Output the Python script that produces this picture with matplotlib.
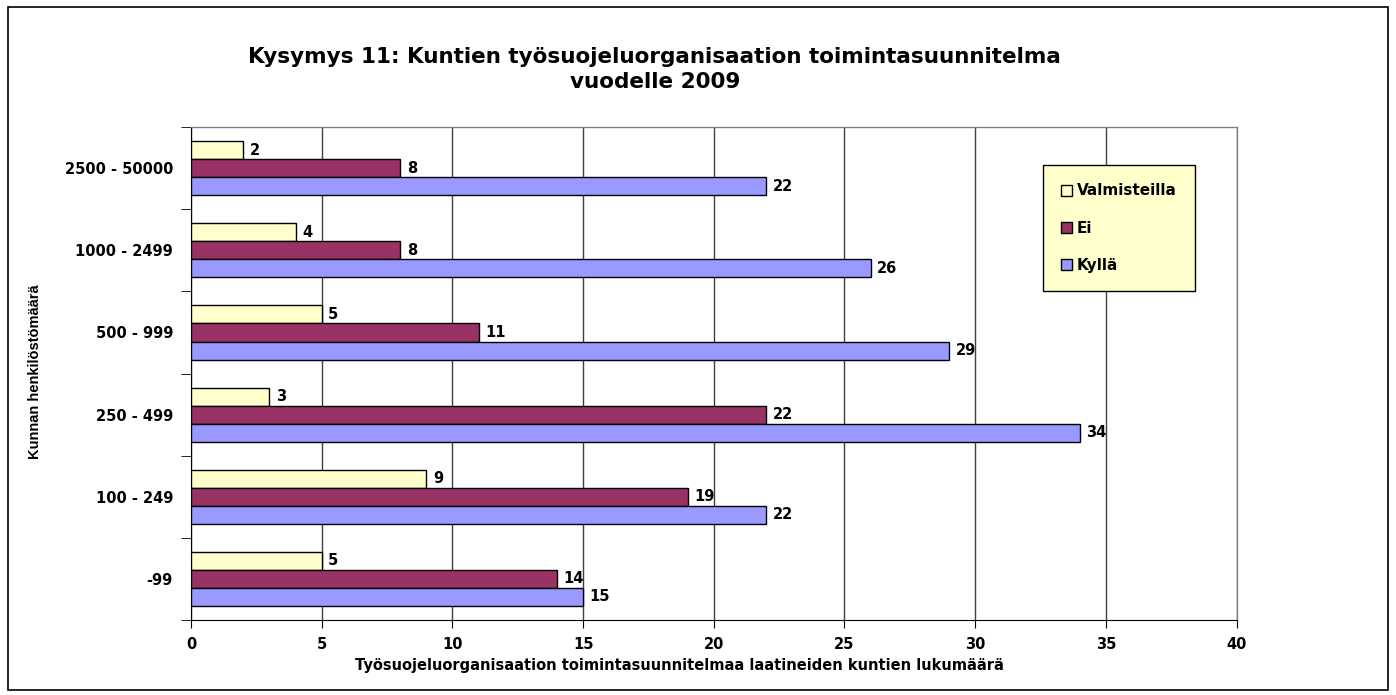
import matplotlib
matplotlib.use('Agg')
import matplotlib.pyplot as plt
import numpy as np

# data (bottom to top)
categories = ['-99', '100 - 249', '250 - 499', '500 - 999', '1000 - 2499', '2500 - 50000']
valmisteilla = [5, 9, 3, 5, 4, 2]
ei = [14, 19, 22, 11, 8, 8]
kylla = [15, 22, 34, 29, 26, 22]
series_names = ['Valmisteilla', 'Ei', 'Kyllä']
colors = ['#FFFFCC', '#993366', '#9999FF']

plt.rcParams['font.family'] = ['DejaVu Sans']
plt.rcParams['font.weight'] = 'bold'

fig = plt.figure(figsize=(13.96, 6.95), dpi=100)
ax = fig.add_axes([0.1368, 0.108, 0.749, 0.709])

# outer border round the whole chart
fig.patches.append(plt.Rectangle((0.006, 0.007), 0.988, 0.983, transform=fig.transFigure,
                                 fill=False, edgecolor='black', linewidth=1.2))

y = np.arange(len(categories))
h = 0.22
offsets = [h, 0, -h]
for vals, name, col, off in zip([valmisteilla, ei, kylla], series_names, colors, offsets):
    bars = ax.barh(y + off, vals, height=h, color=col, edgecolor='black', linewidth=1.0,
                   label=name, zorder=3)
    for b, v in zip(bars, vals):
        ax.text(v + 0.25, b.get_y() + b.get_height() / 2, str(v), va='center', ha='left',
                fontsize=10.5, fontweight='bold', zorder=4)

ax.set_xlim(0, 40)
ax.set_ylim(-0.5, len(categories) - 0.5)
ax.set_xticks(np.arange(0, 41, 5))
ax.set_yticks(y)
ax.set_yticklabels(categories, fontsize=10.5, fontweight='bold')
ax.set_yticks(np.arange(-0.5, len(categories), 1), minor=True)
ax.tick_params(axis='y', which='major', length=0, pad=13)
ax.tick_params(axis='y', which='minor', length=7, direction='out')
ax.tick_params(axis='x', length=6, direction='out', labelsize=10.5, pad=6)
for lab in ax.get_xticklabels():
    lab.set_fontweight('bold')

ax.grid(axis='x', color='#404040', linewidth=1.0, zorder=0)
for s in ['top', 'right']:
    ax.spines[s].set_color('#808080')
    ax.spines[s].set_linewidth(1.0)

fig.text(0.487, 0.043, 'Työsuojeluorganisaation toimintasuunnitelmaa laatineiden kuntien lukumäärä',
         ha='center', va='center', fontsize=10.5, fontweight='bold')
fig.text(0.025, 0.465, 'Kunnan henkilöstömäärä', rotation=90, ha='center', va='center',
         fontsize=10.5, fontweight='bold', family='Liberation Sans')

fig.text(0.469, 0.918, 'Kysymys 11: Kuntien työsuojeluorganisaation toimintasuunnitelma',
         ha='center', va='center', fontsize=15.5, fontweight='bold')
fig.text(0.469, 0.882, 'vuodelle 2009', ha='center', va='center', fontsize=15.5, fontweight='bold')

leg = ax.legend(loc='upper left', bbox_to_anchor=(0.8145, 0.923), frameon=True, fancybox=False,
                edgecolor='black', facecolor='#FFFFCC', framealpha=1,
                handlelength=0.75, handleheight=0.75, handletextpad=0.3, labelspacing=1.45,
                borderpad=1.2, borderaxespad=0, prop={'weight': 'bold', 'size': 11})
leg.get_frame().set_linewidth(1.0)

fig.savefig('out.png', dpi=100)
